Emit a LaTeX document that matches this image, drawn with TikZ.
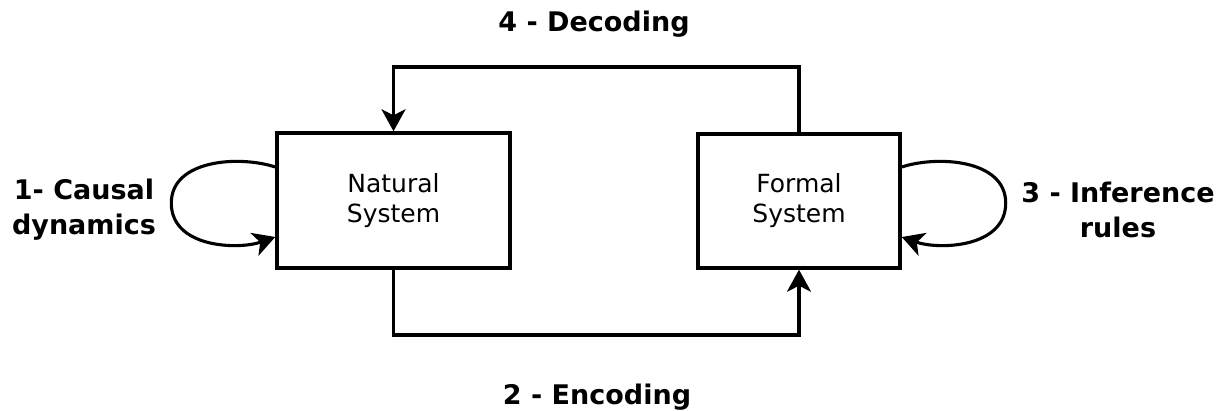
\documentclass[tikz,border=0pt]{standalone}
\usepackage{fontspec}
\setmainfont{DejaVu Sans}
\usetikzlibrary{arrows.meta,calc}
\begin{document}
\begin{tikzpicture}[x=1pt,y=-1pt,
  sysbox/.style={draw,line width=3.4pt,inner sep=0pt,align=center,
    font=\fontsize{25}{30}\selectfont},
  steplabel/.style={align=center,inner sep=0pt,
    font=\fontsize{27}{35}\selectfont\bfseries},
  link/.style={line width=3.1pt,-{Stealth[length=22pt,width=24pt,inset=6pt]}}]
\useasboundingbox (0,0) rectangle (1228,411);

% the two systems
\node[sysbox,minimum width=233pt,minimum height=135pt] (nat) at (393.5,200.5) {Natural\\System};
\node[sysbox,minimum width=202pt,minimum height=134pt] (form) at (799,201) {Formal\\System};

% step labels
\node[steplabel] (dec) at (594,24) {4 - Decoding};
\node[steplabel] (enc) at (597,397) {2 - Encoding};
\node[steplabel] (caus) at (84,210) {1- Causal\\dynamics};
\node[steplabel] (inf) at (1118,210) {3 - Inference\\rules};

% routing points of the encoding and decoding links
\coordinate (dtop) at (600,67);
\coordinate (ebot) at (600,335);

% decoding: formal -> natural, over the top
\draw[link] (form.north) |- (dtop) -| (nat.north);
% encoding: natural -> formal, under the bottom
\draw[link] (nat.south) |- (ebot) -| (form.south);

% causal dynamics loop on the natural system
\draw[link] ($(nat.west)+(0,-33.5)$)
  .. controls ($(nat.west)+(-37,-45.5)$) and ($(nat.west)+(-104,-40.5)$) .. ($(nat.west)+(-104,2.5)$)
  .. controls ($(nat.west)+(-104,47.5)$) and ($(nat.west)+(-37,49.5)$) .. ($(nat.west)+(0,36.5)$);

% inference rules loop on the formal system
\draw[link] ($(form.east)+(0,-34)$)
  .. controls ($(form.east)+(37,-46)$) and ($(form.east)+(104,-41)$) .. ($(form.east)+(104,2)$)
  .. controls ($(form.east)+(104,47)$) and ($(form.east)+(37,49)$) .. ($(form.east)+(0,36)$);
\end{tikzpicture}
\end{document}
